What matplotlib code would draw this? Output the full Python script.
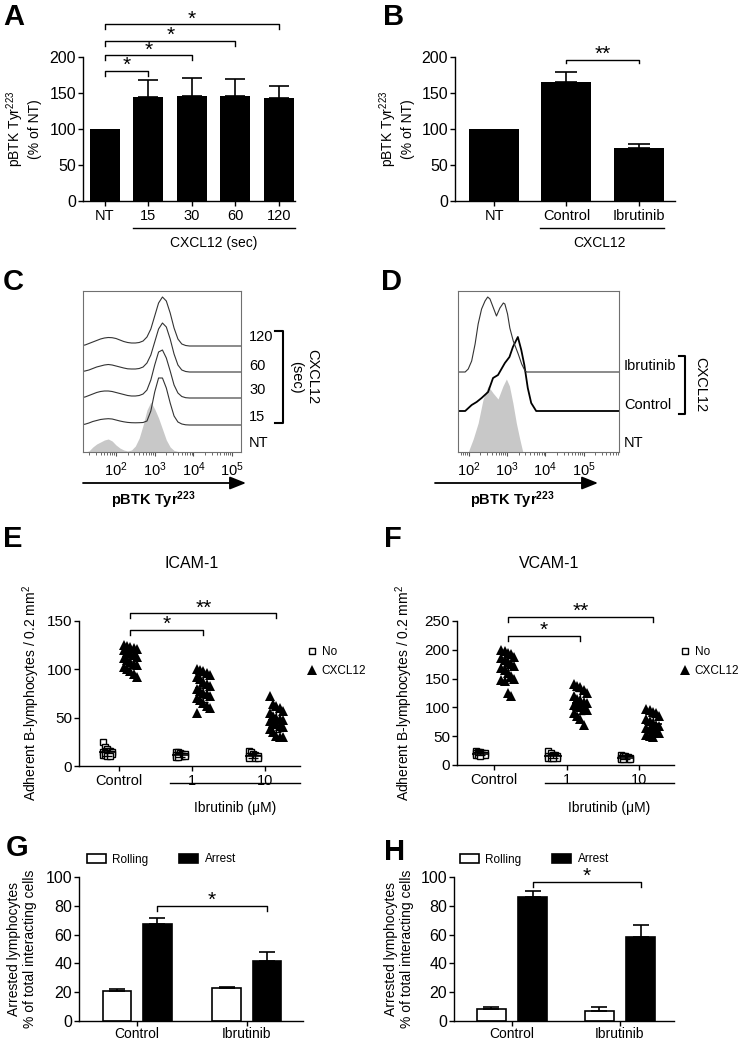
import numpy as np
import matplotlib
matplotlib.use('Agg')
import matplotlib.pyplot as plt
from matplotlib.lines import Line2D

plt.rcParams['font.family'] = ['Liberation Sans', 'DejaVu Sans']
plt.rcParams['mathtext.fontset'] = 'custom'
plt.rcParams['mathtext.rm'] = 'Liberation Sans'
plt.rcParams['mathtext.it'] = 'Liberation Sans:italic'
plt.rcParams['mathtext.bf'] = 'Liberation Sans:bold'

# ---------------- DATA ----------------
# Panel A
a_labels = ['NT', '15', '30', '60', '120']
a_means = [100, 144.5, 146, 146, 143.6]
a_err = [0, 23, 25, 23, 16.7]
# Panel B
b_labels = ['NT', 'Control', 'Ibrutinib']
b_means = [100, 165.3, 73.9]
b_err = [0, 14, 4.6]

# Panel C (flow histograms, x = log10 fluorescence, y = relative counts)
c_logx = [1.1, 1.2, 1.3, 1.4, 1.5, 1.6, 1.7, 1.8, 1.9, 2.0, 2.1, 2.2, 2.3, 2.4, 2.5,
          2.6, 2.7, 2.8, 2.9, 3.0, 3.1, 3.2, 3.3, 3.4, 3.5, 3.6, 3.7, 3.8, 3.9, 5.4]
c_nt = [0, 0, 1, 5, 8, 10, 12, 13, 11, 7, 4, 2, 1, 2, 6,
        14, 27, 42, 50, 43, 34, 23, 12, 5, 1.5, 0.5, 0, 0, 0, 0]
c_15 = [0.3, 0.8, 2, 3.5, 4.5, 5.5, 6, 6.3, 6, 5, 4, 3.2, 2.6, 2.3, 2.2,
        2.3, 2.5, 4, 14, 33, 47, 47, 37, 22, 9, 3, 1, 0.2, 0, 0]
c_30 = [0.5, 1, 2.5, 4, 5.5, 6.5, 7, 7, 6.5, 5.5, 4.5, 3.5, 2.5, 2, 2,
        2.5, 4, 8, 18, 33, 46, 48, 40, 27, 13, 5, 1.5, 0.3, 0, 0]
c_60 = [0.5, 1, 2, 3.5, 5, 6, 7, 7.5, 7, 6, 5, 4, 3.2, 3, 3,
        3.5, 5, 9, 17, 30, 43, 49, 45, 33, 18, 7, 2, 0.5, 0, 0]
c_120 = [0.5, 1, 2.5, 4, 5.5, 7, 8, 8.5, 8.3, 7.5, 6, 4.5, 3.5, 3, 3,
         3.5, 5, 9, 17, 30, 43, 49, 45, 33, 18, 7, 2, 0.5, 0, 0]
c_labels = ['NT', '15', '30', '60', '120']

# Panel D
d_ibr_x = [1.60, 1.90, 1.98, 2.07, 2.16, 2.24, 2.33, 2.42, 2.49, 2.55, 2.64, 2.72,
           2.81, 2.90, 2.94, 3.01, 3.07, 3.16, 3.29, 3.38, 3.47, 3.51, 6.0]
d_ibr_y = [0, 0, 3, 11, 28, 48, 63, 71, 75, 73, 64, 56,
           64, 69, 68, 58, 44, 31, 18, 8, 1, 0, 0]
d_ctrl_x = [1.60, 1.90, 2.07, 2.20, 2.33, 2.50, 2.63, 2.76, 2.94, 3.06, 3.15, 3.28,
            3.37, 3.45, 3.54, 3.63, 3.76, 6.0]
d_ctrl_y = [0, 0, 6, 9, 13, 19, 33, 36, 48, 54, 64, 74,
            61, 46, 23, 8, 0, 0]
d_nt_x = [1.98, 2.11, 2.24, 2.37, 2.50, 2.63, 2.76, 2.89, 2.98, 3.06, 3.15, 3.24, 3.33, 3.41]
d_nt_y = [0, 13, 29, 53, 66, 59, 53, 66, 73, 66, 49, 29, 13, 0]
d_labels = ['NT', 'Control', 'Ibrutinib']

# Panel E (ICAM-1)
ef_groups = ['Control', '1', '10']
e_no = [[25, 20, 18, 16, 15, 14, 13, 13, 12, 12, 11, 11, 10, 10],
        [15, 14, 13, 12, 12, 11, 11, 10, 10, 10, 9, 9],
        [16, 14, 12, 11, 10, 10, 9, 9, 8, 8, 8]]
e_cxcl = [[125, 124, 123, 122, 121, 120, 118, 117, 115, 113, 112, 110, 108, 106, 104, 102, 100, 98, 95, 92],
          [100, 99, 98, 96, 94, 92, 90, 87, 85, 83, 80, 78, 76, 74, 72, 70, 68, 65, 62, 60, 55],
          [72, 64, 62, 60, 57, 55, 52, 50, 49, 48, 47, 45, 43, 41, 40, 38, 35, 31, 30, 30]]
# Panel F (VCAM-1)
f_no = [[24, 23, 22, 21, 20, 20, 19, 19, 18, 18, 17, 17, 16],
        [25, 20, 18, 17, 16, 15, 15, 14, 14, 13, 13, 12, 12],
        [18, 16, 15, 14, 13, 13, 12, 12, 11, 11, 10, 10]]
f_cxcl = [[200, 198, 195, 192, 188, 185, 182, 178, 175, 172, 168, 165, 160, 155, 150, 148, 145, 125, 120],
          [140, 137, 135, 130, 125, 120, 115, 112, 110, 108, 105, 102, 100, 97, 95, 90, 85, 80, 70],
          [97, 95, 92, 90, 85, 80, 77, 73, 70, 68, 65, 62, 60, 57, 55, 52, 50, 48]]

# Panels G, H
gh_groups = ['Control', 'Ibrutinib']
g_rolling = [20.8, 22.6]
g_rolling_err = [1.4, 0.9]
g_arrest = [67.7, 41.5]
g_arrest_err = [3.9, 6.1]
h_rolling = [8.0, 7.2]
h_rolling_err = [1.4, 2.7]
h_arrest = [86.4, 58.4]
h_arrest_err = [4.2, 8.0]

# ---------------- FIGURE ----------------
W, H = 743, 1043
fig = plt.figure(figsize=(W / 100, H / 100), dpi=100)

YTICK_FS = 11.5
XTICK_FS = 10.5
LABEL_FS = 10


def axes_px(l, t, r, b):
    return fig.add_axes([l / W, 1 - b / H, (r - l) / W, (b - t) / H])


def fxy(x, y):
    return (x / W, 1 - y / H)


def ftext(x, y, s, **kw):
    fig.text(x / W, 1 - y / H, s, **kw)


def fline(xs, ys, lw=1.0, color='k'):
    fig.add_artist(Line2D([x / W for x in xs], [1 - y / H for y in ys],
                          transform=fig.transFigure, color=color, lw=lw))


def style_axis(ax, yfs=YTICK_FS, xfs=XTICK_FS, xpad=2.5):
    for s in ['top', 'right']:
        ax.spines[s].set_visible(False)
    for s in ['left', 'bottom']:
        ax.spines[s].set_linewidth(1.0)
    ax.tick_params(direction='out', length=3.5, width=1.0, pad=1.5)
    ax.tick_params(axis='y', labelsize=yfs)
    ax.tick_params(axis='x', labelsize=xfs, pad=xpad)


def bracket(ax, x1, x2, y, drop, text, fs=15):
    ax.plot([x1, x1, x2, x2], [y - drop, y, y, y - drop], color='k', lw=1.0, clip_on=False)
    ax.annotate(text, xy=((x1 + x2) / 2, y), xytext=(0, -3), textcoords='offset points',
                ha='center', va='bottom', fontsize=fs, annotation_clip=False)


def panel_letter(x, y, s):
    ftext(x, y, s, fontsize=21, fontweight='bold', ha='left', va='baseline')


# ---- Panel A ----
axA = axes_px(83, 57, 295, 201)
style_axis(axA)
xa = np.arange(len(a_labels))
axA.bar(xa, a_means, width=0.69, color='k')
axA.errorbar(xa[1:], a_means[1:], yerr=[np.zeros(len(xa) - 1), a_err[1:]], fmt='none',
             ecolor='k', elinewidth=1.2, capsize=7, capthick=1.2)
axA.set_xlim(-0.506, 4.37)
axA.set_ylim(0, 200)
axA.set_yticks([0, 50, 100, 150, 200])
axA.set_xticks(xa)
axA.set_xticklabels(a_labels)
axA.set_ylabel('pBTK Tyr$^{223}$\n(% of NT)', fontsize=LABEL_FS, multialignment='center')
axA.yaxis.set_label_coords(-0.193, 0.5)
for j, yb in zip([1, 2, 3, 4], [180.5, 202.3, 222, 245.3]):
    bracket(axA, 0, j, yb, 6.5, '*')
fline([133, 295], [228, 228])
ftext(214, 243, 'CXCL12 (sec)', fontsize=10, ha='center', va='center')
panel_letter(3, 25, 'A')

# ---- Panel B ----
axB = axes_px(455, 57, 675, 201)
style_axis(axB)
xb = np.arange(len(b_labels))
axB.bar(xb, b_means, width=0.69, color='k')
axB.errorbar(xb[1:], b_means[1:], yerr=[np.zeros(len(xb) - 1), b_err[1:]], fmt='none',
             ecolor='k', elinewidth=1.2, capsize=8, capthick=1.2)
axB.set_xlim(-0.54, 2.50)
axB.set_ylim(0, 200)
axB.set_yticks([0, 50, 100, 150, 200])
axB.set_xticks(xb)
axB.set_xticklabels(b_labels)
axB.set_ylabel('pBTK Tyr$^{223}$\n(% of NT)', fontsize=LABEL_FS, multialignment='center')
axB.yaxis.set_label_coords(-0.182, 0.5)
bracket(axB, 1, 2, 196, 5, '**')
fline([540, 664], [228, 228])
ftext(600, 243, 'CXCL12', fontsize=10, ha='center', va='center')
panel_letter(383, 25, 'B')


def hist_axis(ax, xlim):
    for s in ax.spines.values():
        s.set_linewidth(0.8)
        s.set_color('#707070')
    ax.set_xlim(*xlim)
    ax.set_yticks([])
    ax.set_xticks([2, 3, 4, 5])
    ax.set_xticklabels(['$10^{2}$', '$10^{3}$', '$10^{4}$', '$10^{5}$'])
    minor = [np.log10(k) + n for n in range(1, 6) for k in range(2, 10)]
    ax.set_xticks([m for m in minor if xlim[0] < m < xlim[1]], minor=True)
    ax.tick_params(axis='x', which='major', direction='out', length=3, width=0.8,
                   labelsize=10.5, pad=3, color='#505050')
    ax.tick_params(axis='x', which='minor', direction='out', length=2, width=0.6, color='#505050')


# ---- Panel C ----
axC = axes_px(83, 291, 241, 452)
axC.fill_between(c_logx, 0, c_nt, color='#c8c8c8', lw=0)
for ys, off in [(c_15, 27), (c_30, 54), (c_60, 80), (c_120, 106)]:
    axC.plot(c_logx, np.array(ys) + off, color='#333333', lw=0.8)
axC.set_ylim(0, 161)
hist_axis(axC, (1.147, 5.23))
for lab, yy in zip(c_labels, [443, 417, 390, 366, 337]):
    ftext(249, yy, lab, fontsize=10.5, ha='left', va='center')
fline([275, 283, 283, 275], [331, 331, 423, 423], lw=1.5)
ftext(304, 377, 'CXCL12\n(sec)', fontsize=10.5, ha='center', va='center', rotation=270,
      multialignment='center')
axC.annotate('', xy=fxy(246, 483), xytext=fxy(83, 483), xycoords='figure fraction',
             textcoords='figure fraction',
             arrowprops=dict(arrowstyle='-|>,head_length=0.7,head_width=0.28', lw=1.3,
                             color='k', shrinkA=0, shrinkB=0, mutation_scale=14))
ftext(153, 500, r'pBTK Tyr$^{\mathbf{223}}$', fontsize=10.5, fontweight='bold',
      ha='center', va='center')
panel_letter(3, 290, 'C')

# ---- Panel D ----
axD = axes_px(458, 291, 619, 452)
axD.fill_between(d_nt_x, 0, d_nt_y, color='#c8c8c8', lw=0)
axD.plot(d_ctrl_x, np.array(d_ctrl_y) + 41, color='k', lw=1.3)
axD.plot(d_ibr_x, np.array(d_ibr_y) + 80, color='#333333', lw=0.8)
axD.set_ylim(0, 161)
hist_axis(axD, (1.712, 5.93))
for lab, yy in zip(d_labels, [443, 405, 366]):
    ftext(624, yy, lab, fontsize=10.5, ha='left', va='center')
fline([679, 685, 685, 679], [356, 356, 414, 414], lw=1.5)
ftext(700, 385, 'CXCL12', fontsize=10.5, ha='center', va='center', rotation=270)
axD.annotate('', xy=fxy(598, 483), xytext=fxy(435, 483), xycoords='figure fraction',
             textcoords='figure fraction',
             arrowprops=dict(arrowstyle='-|>,head_length=0.7,head_width=0.28', lw=1.3,
                             color='k', shrinkA=0, shrinkB=0, mutation_scale=14))
ftext(512, 500, r'pBTK Tyr$^{\mathbf{223}}$', fontsize=10.5, fontweight='bold',
      ha='center', va='center')
panel_letter(381, 290, 'D')


# ---- Panels E, F ----
def spread(n, w):
    return ((np.arange(n) % 5) - 2) / 2.0 * w


def scatter_panel(ax, no_vals, cx_vals, off_no, off_cx):
    h_no = h_cx = None
    for g, (nv, cv) in enumerate(zip(no_vals, cx_vals)):
        nv = np.array(nv, float)
        cv = np.array(cv, float)
        xn = g + off_no
        xc = g + off_cx
        h_no, = ax.plot(xn + spread(len(nv), 0.06), nv, ls='none', marker='s', ms=5,
                        mfc='white', mec='k', mew=1.0, zorder=3)
        h_cx, = ax.plot(xc + spread(len(cv), 0.09), cv, ls='none', marker='^', ms=6.8,
                        color='k', mew=0, zorder=3)
        for xm, v in [(xn, nv), (xc, cv)]:
            m, sd = v.mean(), v.std(ddof=1)
            ax.hlines(m, xm - 0.12, xm + 0.12, color='k', lw=1.2, zorder=4)
            ax.errorbar([xm], [m], yerr=[[sd], [sd]], fmt='none', ecolor='k',
                        elinewidth=1.0, capsize=3.5, capthick=1.0, zorder=4)
    return h_no, h_cx


axE = axes_px(79, 621, 300, 766)
style_axis(axE, yfs=11)
hE = scatter_panel(axE, e_no, e_cxcl, -0.16, 0.155)
axE.set_xlim(-0.548, 2.48)
axE.set_ylim(0, 150)
axE.set_yticks([0, 50, 100, 150])
axE.set_xticks(range(3))
axE.set_xticklabels(ef_groups)
axE.set_ylabel('Adherent B-lymphocytes / 0.2 mm$^2$', fontsize=LABEL_FS)
axE.yaxis.set_label_coords(-0.167, 0.5)
bracket(axE, 0.155, 1.155, 140.6, 5, '*')
bracket(axE, 0.155, 2.155, 158, 5, '**')
axE.legend(hE, ['No', 'CXCL12'], loc='center left', bbox_to_anchor=fxy(307, 661.5),
           bbox_transform=fig.transFigure, frameon=False, fontsize=8.5, handlelength=0.8,
           handletextpad=0.45, labelspacing=0.55, borderpad=0, borderaxespad=0)
ftext(192, 563, 'ICAM-1', fontsize=11.5, ha='center', va='center')
fline([170, 300], [783, 783])
ftext(235, 808, 'Ibrutinib (\u03bcM)', fontsize=10, ha='center', va='center')
panel_letter(3, 547, 'E')

axF = axes_px(457, 621, 674, 765)
style_axis(axF, yfs=11)
hF = scatter_panel(axF, f_no, f_cxcl, -0.19, 0.19)
axF.set_xlim(-0.51, 2.48)
axF.set_ylim(0, 250)
axF.set_yticks([0, 50, 100, 150, 200, 250])
axF.set_xticks(range(3))
axF.set_xticklabels(ef_groups)
axF.set_ylabel('Adherent B-lymphocytes / 0.2 mm$^2$', fontsize=LABEL_FS)
axF.yaxis.set_label_coords(-0.194, 0.5)
bracket(axF, 0.19, 1.19, 224, 8.7, '*')
bracket(axF, 0.19, 2.19, 257, 8.7, '**')
axF.legend(hF, ['No', 'CXCL12'], loc='center left', bbox_to_anchor=fxy(680, 661.5),
           bbox_transform=fig.transFigure, frameon=False, fontsize=8.5, handlelength=0.8,
           handletextpad=0.45, labelspacing=0.55, borderpad=0, borderaxespad=0)
ftext(549, 563, 'VCAM-1', fontsize=11.5, ha='center', va='center')
fline([545, 674], [783, 783])
ftext(609, 808, 'Ibrutinib (\u03bcM)', fontsize=10, ha='center', va='center')
panel_letter(384, 547, 'F')


# ---- Panels G, H ----
def bar_panel(ax, roll, roll_err, arr, arr_err, off, width, cap):
    x = np.arange(len(gh_groups))
    ax.bar(x - off, roll, width=width, color='white', edgecolor='k', lw=1.2, label='Rolling')
    ax.bar(x + off, arr, width=width, color='k', edgecolor='k', lw=1.2, label='Arrest')
    ax.errorbar(x - off, roll, yerr=[np.zeros(len(x)), roll_err], fmt='none', ecolor='k',
                elinewidth=1.2, capsize=cap, capthick=1.2)
    ax.errorbar(x + off, arr, yerr=[np.zeros(len(x)), arr_err], fmt='none', ecolor='k',
                elinewidth=1.2, capsize=cap, capthick=1.2)
    ax.set_ylim(0, 100)
    ax.set_yticks([0, 20, 40, 60, 80, 100])
    ax.set_xticks(x)
    ax.set_xticklabels(gh_groups)
    ax.set_ylabel('Arrested lymphocytes\n% of total interacting cells', fontsize=LABEL_FS,
                  multialignment='center')


axG = axes_px(79, 877, 303, 1021)
style_axis(axG, xfs=10, xpad=1)
bar_panel(axG, g_rolling, g_rolling_err, g_arrest, g_arrest_err, 0.183, 0.26, 6)
axG.set_xlim(-0.532, 1.514)
axG.yaxis.set_label_coords(-0.1875, 0.5)
bracket(axG, 0.183, 1.183, 80, 3.5, '*')
axG.legend(loc='center left', bbox_to_anchor=fxy(87, 859.5), bbox_transform=fig.transFigure,
           ncol=2, frameon=False, fontsize=8.5, handlelength=1.6, handleheight=0.9,
           handletextpad=0.55, columnspacing=2.6, borderpad=0, borderaxespad=0)
panel_letter(6, 856, 'G')

axH = axes_px(454, 877, 674, 1021)
style_axis(axH, xfs=10, xpad=1)
bar_panel(axH, h_rolling, h_rolling_err, h_arrest, h_arrest_err, 0.19, 0.26, 6)
axH.set_xlim(-0.537, 1.50)
axH.yaxis.set_label_coords(-0.182, 0.5)
bracket(axH, 0.19, 1.19, 96.5, 3.5, '*')
axH.legend(loc='center left', bbox_to_anchor=fxy(460, 859.5), bbox_transform=fig.transFigure,
           ncol=2, frameon=False, fontsize=8.5, handlelength=1.6, handleheight=0.9,
           handletextpad=0.55, columnspacing=2.6, borderpad=0, borderaxespad=0)
panel_letter(384, 860, 'H')

fig.savefig('out.png', dpi=100)
